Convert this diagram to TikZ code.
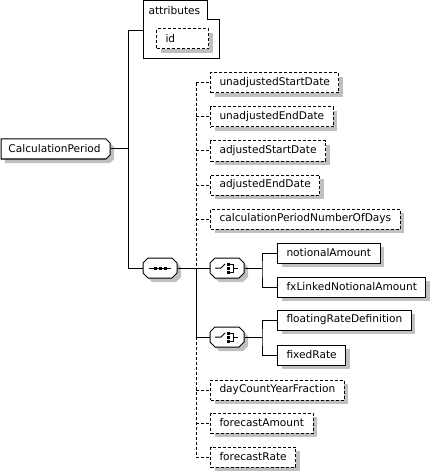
\documentclass[tikz,border=0pt]{standalone}
\usepackage{fontspec}
\setmainfont{DejaVu Sans}
\usetikzlibrary{shadows}
\definecolor{shadowc}{HTML}{C0C0C0}
\newcommand\octshape{%
  \fill[shadowc] (-8,-6) -- (16,-6) -- (21,-1) -- (21,9) -- (16,14) -- (-8,14) -- (-13,9) -- (-13,-1) -- cycle;
  \draw[fill=white] (-12,-10) -- (12,-10) -- (17,-5) -- (17,5) -- (12,10) -- (-12,10) -- (-17,5) -- (-17,-5) -- cycle;}
\newcommand\seqicon{%
  \draw (-11,0) -- (11,0);
  \fill (-6.5,-1.5) rectangle ++(3,3);
  \fill (-1.5,-1.5) rectangle ++(3,3);
  \fill (3.5,-1.5) rectangle ++(3,3);}
\newcommand\choiceicon{%
  \draw (-12,0) -- (-6,0) -- (-2,-4);
  \fill (-0.5,-5.5) rectangle ++(3,3);
  \fill (-0.5,-1.5) rectangle ++(3,3);
  \fill (-0.5,2.5) rectangle ++(3,3);
  \draw (2.5,-4) -- (6.5,-4) -- (6.5,4) -- (2.5,4);
  \draw (6.5,0) -- (11,0);}
\begin{document}
\begin{tikzpicture}[x=1pt,y=-1pt,line width=1pt,
  font=\fontsize{10.6}{12}\selectfont,
  box/.style={draw, fill=white, anchor=west, minimum height=20pt, inner xsep=9pt, inner ysep=0pt,
    general shadow={fill=shadowc, draw=none, shadow xshift=4pt, shadow yshift=-4pt}},
  opt/.style={box, dash pattern=on 3pt off 2pt},
  dashline/.style={dash pattern=on 3pt off 2pt},
  blank/.style={inner sep=0pt, minimum width=34pt, minimum height=20pt}]
\useasboundingbox (0,0) rectangle (434,473);

% attributes
\node[inner sep=0pt, minimum width=76pt, minimum height=58.5pt, anchor=north west] (attr) at (143,0.5) {};
\draw (143,0.5) -- (207,0.5) -- (207,20) -- (219,20) -- (219,59) -- (143,59) -- cycle;
\node[anchor=west, inner sep=0pt] (attrl) at (148,11) {attributes};
\node[opt, text width=34pt, align=left] (id) at (156,39) {id};

% root element
\node[anchor=west, minimum height=20pt, inner xsep=7pt, inner ysep=0pt, text width=95pt, align=left] (cp) at (1,149) {};
\fill[shadowc] (5,143) -- (110,143) -- (114,147) -- (114,159) -- (110,163) -- (5,163) -- cycle;
\draw[fill=white] (1,139) -- (106,139) -- (110,143) -- (110,155) -- (106,159) -- (1,159) -- cycle;
\node[anchor=west, minimum height=20pt, inner xsep=7pt, inner ysep=0pt, text width=95pt, align=left] at (1,149) {CalculationPeriod};

% sequence and choices
\node[blank] (seq) at (160,268) {};
\begin{scope}[shift={(seq)}]\octshape\seqicon\end{scope}
\node[blank] (ch1) at (227,268) {};
\begin{scope}[shift={(ch1)}]\octshape\choiceicon\end{scope}
\node[blank] (ch2) at (227,337) {};
\begin{scope}[shift={(ch2)}]\octshape\choiceicon\end{scope}

\coordinate (tj) at (128,268);
\coordinate (sj) at (196,268);
\coordinate (c1j) at (262,268);
\coordinate (c2j) at (262,337);

% children
\node[opt] (usd) at (210,83) {unadjustedStartDate};
\node[opt] (ued) at (210,117) {unadjustedEndDate};
\node[opt] (asd) at (210,151) {adjustedStartDate};
\node[opt] (aed) at (210,185) {adjustedEndDate};
\node[opt] (cpn) at (210,219) {calculationPeriodNumberOfDays};
\node[box] (na) at (277,253) {notionalAmount};
\node[box] (fx) at (277,287) {fxLinkedNotionalAmount};
\node[box] (frd) at (277,320) {floatingRateDefinition};
\node[box] (fr) at (277,355) {fixedRate};
\node[opt] (dcy) at (210,390) {dayCountYearFraction};
\node[opt] (fa) at (210,423) {forecastAmount};
\node[opt] (frt) at (210,457) {forecastRate};

% connectors
\draw (cp.east) -- (cp.east -| tj);
\draw (attr.west) -| (tj) -- (seq.west);
\draw (seq.east) -- (ch1.west);
\draw (sj) |- (ch2.west);
\draw[dashline] (usd.west -| sj) -- (sj);
\draw[dashline] (ch2.west -| sj) -- (frt.west -| sj);
\foreach \n in {usd,ued,asd,aed,cpn,dcy,fa,frt}
  \draw[dashline] (\n.west -| sj) -- (\n.west);
\draw (ch1.east) -- (c1j);
\draw (na.west) -| (c1j) |- (fx.west);
\draw (ch2.east) -- (c2j);
\draw (frd.west) -| (c2j) |- (fr.west);
\end{tikzpicture}
\end{document}
